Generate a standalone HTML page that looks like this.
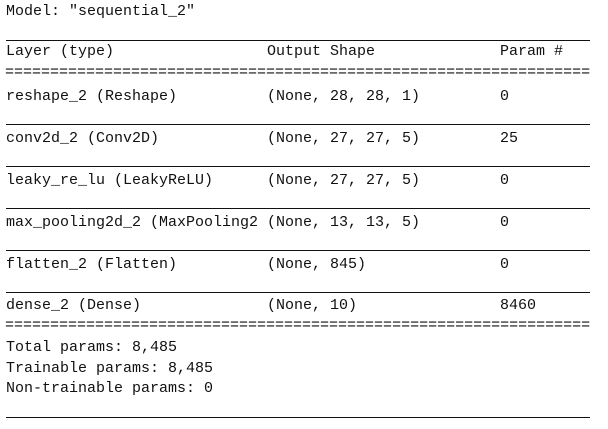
<!DOCTYPE html>
<html><head><meta charset="utf-8"><style>
body{margin:0;width:608px;height:429px;background:#fff;position:relative;overflow:hidden;font-family:"Liberation Mono",monospace;font-size:15px;color:#111}
.t{position:absolute;white-space:pre;line-height:16px}
.l{position:absolute;left:6px;width:584px;height:1px;background:#111}
</style></head><body>
<div class="t" style="left:6px;top:4px">Model: "sequential_2"</div>
<div class="l" style="top:40px"></div>
<div class="t" style="left:6px;top:44px">Layer (type)</div>
<div class="t" style="left:267px;top:44px">Output Shape</div>
<div class="t" style="left:500px;top:44px">Param #</div>
<div class="t" style="left:5px;top:65px;overflow:hidden;width:586px">=================================================================</div>

<div class="t" style="left:6px;top:89px">reshape_2 (Reshape)</div>
<div class="t" style="left:267px;top:89px">(None, 28, 28, 1)</div>
<div class="t" style="left:500px;top:89px">0</div>
<div class="l" style="top:124px"></div>

<div class="t" style="left:6px;top:131px">conv2d_2 (Conv2D)</div>
<div class="t" style="left:267px;top:131px">(None, 27, 27, 5)</div>
<div class="t" style="left:500px;top:131px">25</div>
<div class="l" style="top:166px"></div>

<div class="t" style="left:6px;top:173px">leaky_re_lu (LeakyReLU)</div>
<div class="t" style="left:267px;top:173px">(None, 27, 27, 5)</div>
<div class="t" style="left:500px;top:173px">0</div>
<div class="l" style="top:208px"></div>

<div class="t" style="left:6px;top:215px">max_pooling2d_2 (MaxPooling2</div>
<div class="t" style="left:267px;top:215px">(None, 13, 13, 5)</div>
<div class="t" style="left:500px;top:215px">0</div>
<div class="l" style="top:250px"></div>

<div class="t" style="left:6px;top:257px">flatten_2 (Flatten)</div>
<div class="t" style="left:267px;top:257px">(None, 845)</div>
<div class="t" style="left:500px;top:257px">0</div>
<div class="l" style="top:292px"></div>

<div class="t" style="left:6px;top:298px">dense_2 (Dense)</div>
<div class="t" style="left:267px;top:298px">(None, 10)</div>
<div class="t" style="left:500px;top:298px">8460</div>
<div class="t" style="left:5px;top:318px;overflow:hidden;width:586px">=================================================================</div>

<div class="t" style="left:6px;top:340px">Total params: 8,485</div>
<div class="t" style="left:6px;top:361px">Trainable params: 8,485</div>
<div class="t" style="left:6px;top:381px">Non-trainable params: 0</div>
<div class="l" style="top:417px"></div>
</body></html>
